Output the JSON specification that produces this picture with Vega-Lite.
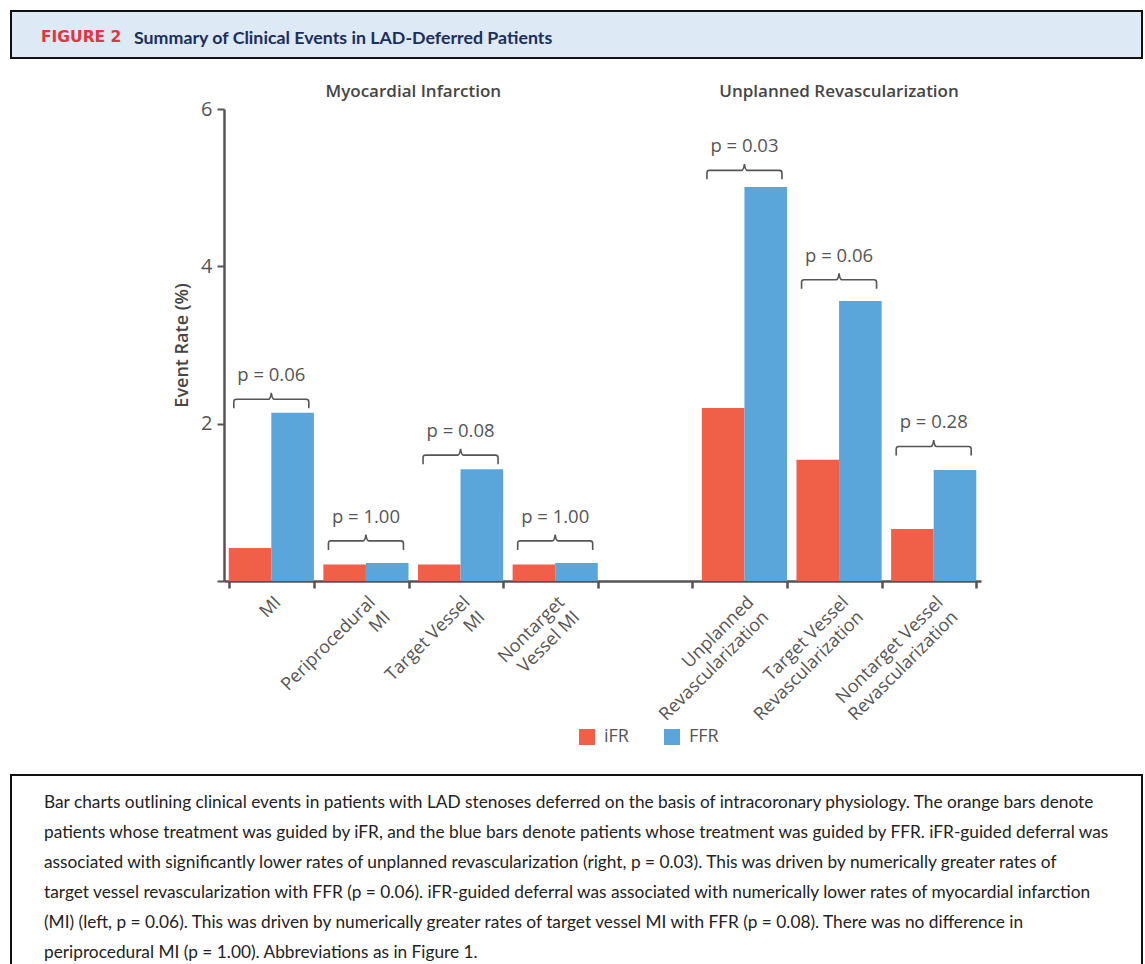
{
  "$schema": "https://vega.github.io/schema/vega-lite/v6.json",
  "background": "white",
  "padding": {"left": 10, "top": 10, "right": 0, "bottom": 0},
  "title": {"text": "FIGURE 2", "anchor": "start", "dx": 31, "offset": -35, "font": "DejaVu Sans", "fontSize": 15.5, "fontWeight": "bold", "color": "#e5343d", "baseline": "top"},
  "datasets": {
    "bars": [
      {"category": "MI", "method": "iFR", "rate": 0.42},
      {"category": "MI", "method": "FFR", "rate": 2.14},
      {"category": "Periprocedural MI", "method": "iFR", "rate": 0.21},
      {"category": "Periprocedural MI", "method": "FFR", "rate": 0.23},
      {"category": "Target Vessel MI", "method": "iFR", "rate": 0.21},
      {"category": "Target Vessel MI", "method": "FFR", "rate": 1.42},
      {"category": "Nontarget Vessel MI", "method": "iFR", "rate": 0.21},
      {"category": "Nontarget Vessel MI", "method": "FFR", "rate": 0.23},
      {"category": "Unplanned Revascularization", "method": "iFR", "rate": 2.2},
      {"category": "Unplanned Revascularization", "method": "FFR", "rate": 5.01},
      {"category": "Target Vessel Revascularization", "method": "iFR", "rate": 1.54},
      {"category": "Target Vessel Revascularization", "method": "FFR", "rate": 3.56},
      {"category": "Nontarget Vessel Revascularization", "method": "iFR", "rate": 0.66},
      {"category": "Nontarget Vessel Revascularization", "method": "FFR", "rate": 1.41}
    ],
    "pvals": [
      {"category": "MI", "p": "p = 0.06", "level": 2.31},
      {"category": "Periprocedural MI", "p": "p = 1.00", "level": 0.51},
      {"category": "Target Vessel MI", "p": "p = 0.08", "level": 1.6},
      {"category": "Nontarget Vessel MI", "p": "p = 1.00", "level": 0.51},
      {"category": "Unplanned Revascularization", "p": "p = 0.03", "level": 5.22},
      {"category": "Target Vessel Revascularization", "p": "p = 0.06", "level": 3.83},
      {"category": "Nontarget Vessel Revascularization", "p": "p = 0.28", "level": 1.71}
    ],
    "groups": [
      {"title": "Myocardial Infarction", "category": "Target Vessel MI"},
      {"title": "Unplanned Revascularization", "category": "Target Vessel Revascularization"}
    ]
  },
  "concat": [
    {
      "width": 1131,
      "height": 47,
      "data": {"values": [{}]},
      "mark": {"type": "text", "text": ""},
      "encoding": {},
      "view": {"fill": "#dde9f5", "stroke": "#111111", "strokeWidth": 2},
      "title": {"text": "Summary of Clinical Events in LAD-Deferred Patients", "anchor": "start", "dx": 123, "offset": -36.5, "font": "Lato", "fontSize": 17.8, "fontWeight": "bold", "color": "#1c2e5c", "baseline": "top"}
    },
    {
      "hconcat": [
        {
          "width": 162,
          "height": 642,
          "data": {"values": [{}]},
          "mark": {"type": "text", "text": ""},
          "encoding": {}
        },
        {
          "width": 757,
          "height": 472,
          "layer": [
            {
              "data": {"name": "bars"},
              "mark": {"type": "bar"},
              "encoding": {
                "x": {
                  "field": "category",
                  "type": "nominal",
                  "sort": null,
                  "title": null,
                  "scale": {
                    "domain": ["MI", "Periprocedural MI", "Target Vessel MI", "Nontarget Vessel MI", "gap", "Unplanned Revascularization", "Target Vessel Revascularization", "Nontarget Vessel Revascularization"],
                    "paddingInner": 0.1,
                    "paddingOuter": 0.05
                  },
                  "axis": {
                    "tickBand": "extent",
                    "labelAngle": -45,
                    "labelAlign": "right",
                    "labelBaseline": "top",
                    "labelPadding": 5,
                    "labelFontSize": 18,
                    "labelColor": "#555555",
                    "labelFont": "Open Sans",
                    "labelLineHeight": 21,
                    "labelOverlap": false,
                    "labelLimit": 0,
                    "labelFlush": false,
                    "tickSize": 7,
                    "tickWidth": 2.5,
                    "tickColor": "#555555",
                    "domainColor": "#555555",
                    "domainWidth": 2.5,
                    "labelExpr": "datum.value == 'Periprocedural MI' ? ['Periprocedural', 'MI'] : datum.value == 'Target Vessel MI' ? ['Target Vessel', 'MI'] : datum.value == 'Nontarget Vessel MI' ? ['Nontarget', 'Vessel MI'] : datum.value == 'Unplanned Revascularization' ? ['Unplanned', 'Revascularization'] : datum.value == 'Target Vessel Revascularization' ? ['Target Vessel', 'Revascularization'] : datum.value == 'Nontarget Vessel Revascularization' ? ['Nontarget Vessel', 'Revascularization'] : datum.value == 'gap' ? '' : datum.label"
                  }
                },
                "xOffset": {"field": "method", "type": "nominal", "scale": {"domain": ["iFR", "FFR"], "paddingInner": 0, "paddingOuter": 0}},
                "y": {
                  "field": "rate",
                  "type": "quantitative",
                  "title": "Event Rate (%)",
                  "scale": {"domain": [0, 6], "nice": false},
                  "axis": {
                    "values": [0, 2, 4, 6],
                    "labelExpr": "datum.value == 0 ? '' : format(datum.value, 'd')",
                    "grid": false,
                    "labelFontSize": 20,
                    "labelColor": "#555555",
                    "labelFont": "Open Sans",
                    "labelPadding": 5,
                    "tickSize": 7,
                    "tickWidth": 2,
                    "tickColor": "#555555",
                    "domainColor": "#555555",
                    "domainWidth": 2.5,
                    "titleFont": "Open Sans",
                    "titleFontSize": 18,
                    "titleFontWeight": 600,
                    "titleColor": "#454545",
                    "titlePadding": 9
                  }
                },
                "color": {
                  "field": "method",
                  "type": "nominal",
                  "scale": {"domain": ["iFR", "FFR"], "range": ["#f05f47", "#5aa5d9"]},
                  "legend": {
                    "title": null,
                    "orient": "none",
                    "legendX": 567,
                    "legendY": 717,
                    "direction": "horizontal",
                    "symbolType": "square",
                    "symbolSize": 256,
                    "symbolStrokeWidth": 0,
                    "labelFontSize": 18,
                    "labelFont": "Open Sans",
                    "labelColor": "#555555",
                    "labelOffset": 8,
                    "columnPadding": 34,
                    "padding": 0
                  }
                }
              }
            },
            {
              "data": {"name": "pvals"},
              "mark": {
                "type": "point",
                "shape": "M -1 0.24 L -1 0.07 Q -1 0 -0.93 0 L -0.08 0 Q -0.02 0 0 -0.17 Q 0.02 0 0.08 0 L 0.93 0 Q 1 0 1 0.07 L 1 0.24",
                "size": 5625,
                "filled": false,
                "stroke": "#555555",
                "strokeWidth": 1.6,
                "opacity": 1
              },
              "encoding": {
                "x": {"field": "category", "type": "nominal", "title": null},
                "y": {"field": "level", "type": "quantitative", "title": "Event Rate (%)"}
              }
            },
            {
              "data": {"name": "pvals"},
              "mark": {"type": "text", "fontSize": 18.5, "font": "Open Sans", "color": "#555555", "baseline": "alphabetic", "dy": -18},
              "encoding": {
                "x": {"field": "category", "type": "nominal", "title": null},
                "y": {"field": "level", "type": "quantitative", "title": "Event Rate (%)"},
                "text": {"field": "p"}
              }
            },
            {
              "data": {"name": "groups"},
              "transform": [{"filter": "datum.title == 'Myocardial Infarction'"}],
              "mark": {"type": "text", "fontSize": 17, "fontWeight": 600, "font": "Open Sans", "color": "#454545", "baseline": "middle"},
              "encoding": {
                "x": {"field": "category", "type": "nominal", "title": null, "bandPosition": -0.055},
                "y": {"datum": 6.22, "type": "quantitative"},
                "text": {"field": "title"}
              }
            },
            {
              "data": {"name": "groups"},
              "transform": [{"filter": "datum.title == 'Unplanned Revascularization'"}],
              "mark": {"type": "text", "fontSize": 17, "fontWeight": 600, "font": "Open Sans", "color": "#454545", "baseline": "middle"},
              "encoding": {
                "x": {"field": "category", "type": "nominal", "title": null},
                "y": {"datum": 6.22, "type": "quantitative"},
                "text": {"field": "title"}
              }
            }
          ]
        }
      ],
      "spacing": 0
    },
    {
      "width": 1131,
      "height": 196,
      "data": {"values": [{}]},
      "mark": {"type": "text", "text": ""},
      "encoding": {},
      "view": {"fill": "white", "stroke": "#111111", "strokeWidth": 2},
      "title": {
        "text": [
          "Bar charts outlining clinical events in patients with LAD stenoses deferred on the basis of intracoronary physiology. The orange bars denote",
          "patients whose treatment was guided by iFR, and the blue bars denote patients whose treatment was guided by FFR. iFR-guided deferral was",
          "associated with significantly lower rates of unplanned revascularization (right, p = 0.03). This was driven by numerically greater rates of",
          "target vessel revascularization with FFR (p = 0.06). iFR-guided deferral was associated with numerically lower rates of myocardial infarction",
          "(MI) (left, p = 0.06). This was driven by numerically greater rates of target vessel MI with FFR (p = 0.08). There was no difference in",
          "periprocedural MI (p = 1.00). Abbreviations as in Figure 1."
        ],
        "anchor": "start",
        "dx": 33,
        "offset": -186,
        "font": "Lato",
        "fontSize": 17.3,
        "fontWeight": "normal",
        "color": "#222222",
        "lineHeight": 30,
        "baseline": "top"
      }
    }
  ],
  "columns": 1,
  "align": "none",
  "spacing": 23,
  "config": {"view": {"stroke": null}, "font": "Open Sans"}
}
